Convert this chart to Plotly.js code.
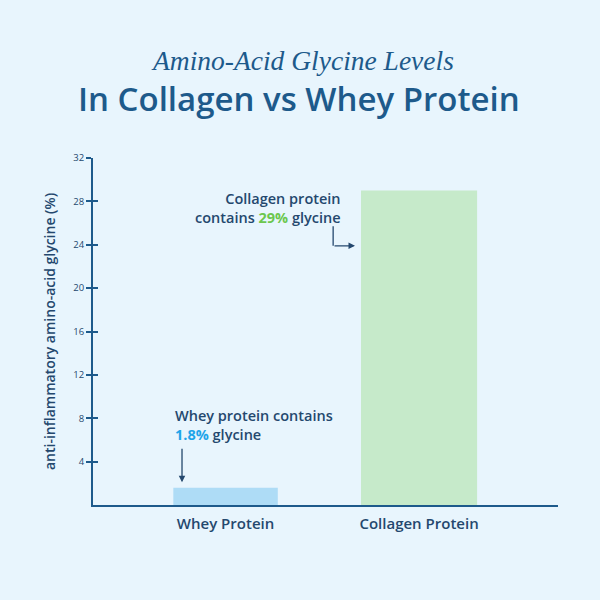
<!DOCTYPE html>
<html>
<head>
<meta charset="utf-8">
<script src="https://cdn.plot.ly/plotly-3.0.1.min.js"></script>
<style>html,body{margin:0;padding:0;background:#e8f5fd;}#chart{width:600px;height:600px;}</style>
</head>
<body>
<div id="chart"></div>
<script>
const categories = ["Whey Protein", "Collagen Protein"];
const glycineValues = [1.6, 29];
const barColors = ["#aedcf6", "#c6eaca"];
const barWidths = [0.54, 0.6];
const tickValues = [4, 8, 12, 16, 20, 24, 28, 32];

const navy = "#1d5a8b";
const textNavy = "#24486e";
const font = "'Open Sans', sans-serif";

const xPos = categories.map((c, i) => i);

const data = [{
  type: "bar",
  x: xPos,
  y: glycineValues,
  width: barWidths,
  marker: {color: barColors, line: {width: 0}},
  hoverinfo: "skip",
  showlegend: false
}, {
  type: "scatter", x: [0], y: [0], yaxis: "y2", mode: "markers",
  marker: {opacity: 0}, showlegend: false, hoverinfo: "skip"
}];

const layout = {
  width: 600, height: 600,
  paper_bgcolor: "#e8f5fd",
  plot_bgcolor: "#e8f5fd",
  margin: {l: 93, r: 42, t: 158, b: 95},
  showlegend: false,
  xaxis: {
    range: [-0.685, 1.718],
    tickvals: xPos,
    ticktext: categories,
    showline: true, linecolor: navy, linewidth: 2,
    ticks: "", showgrid: false, zeroline: false,
    tickfont: {family: font, size: 15, color: textNavy, weight: 600},
    ticklabelstandoff: 4
  },
  yaxis: {
    range: [0, 32],
    tickvals: tickValues,
    showline: true, linecolor: navy, linewidth: 2,
    ticks: "outside", ticklen: 5, tickwidth: 2, tickcolor: navy,
    showgrid: false, zeroline: false,
    tickfont: {family: font, size: 9.5, color: textNavy},
    title: {text: "anti-inflammatory amino-acid glycine (%)", font: {family: font, size: 14, color: textNavy, weight: 600}, standoff: 14}
  },
  yaxis2: {
    overlaying: "y", range: [0, 32], tickvals: tickValues,
    ticks: "inside", ticklen: 5, tickwidth: 2, tickcolor: navy,
    showticklabels: false, showgrid: false, zeroline: false, showline: false
  },
  annotations: [
    {xref: "paper", yref: "paper", x: 0.5, y: 1, xanchor: "center", yanchor: "middle",
     yshift: 98, xshift: -23.5,
     text: "<i>Amino-Acid Glycine Levels</i>", showarrow: false,
     font: {family: "'Liberation Serif', serif", size: 27.5, color: navy}},
    {xref: "paper", yref: "paper", x: 0.5, y: 1, xanchor: "center", yanchor: "middle",
     yshift: 60, xshift: -26.5,
     text: "In Collagen vs Whey Protein", showarrow: false,
     font: {family: font, size: 33, color: navy, weight: 600}},
    {xref: "x", yref: "y", x: -0.271, y: 7.4, xanchor: "left", yanchor: "middle", align: "left",
     text: "Whey protein contains<br><b style='color:#1ea4e9'>1.8%</b> glycine",
     showarrow: false, font: {family: font, size: 14.5, color: textNavy, weight: 600}},
    {xref: "x", yref: "y", x: 0.607, y: 27.4, xanchor: "right", yanchor: "middle", align: "right",
     text: "Collagen protein<br>contains <b style='color:#6cc74e'>29%</b> glycine",
     showarrow: false, font: {family: font, size: 14.5, color: textNavy, weight: 600}},
    {xref: "x", yref: "y", x: -0.225, y: 2.1, ax: 0, ay: -35, axref: "pixel", ayref: "pixel",
     text: "", showarrow: true, arrowhead: 2, arrowsize: 1, arrowwidth: 1.3, arrowcolor: textNavy},
    {xref: "x", yref: "y", x: 0.669, y: 23.9, ax: -22, ay: 0,
     text: "", showarrow: true, arrowhead: 2, arrowsize: 1, arrowwidth: 1.3, arrowcolor: textNavy}
  ],
  shapes: [
    {type: "line", xref: "x", yref: "y", x0: 0.556, x1: 0.556, y0: 25.7, y1: 23.9,
     line: {color: textNavy, width: 1.3}}
  ]
};

Plotly.newPlot("chart", data, layout, {displayModeBar: false, staticPlot: true});
</script>
</body>
</html>
